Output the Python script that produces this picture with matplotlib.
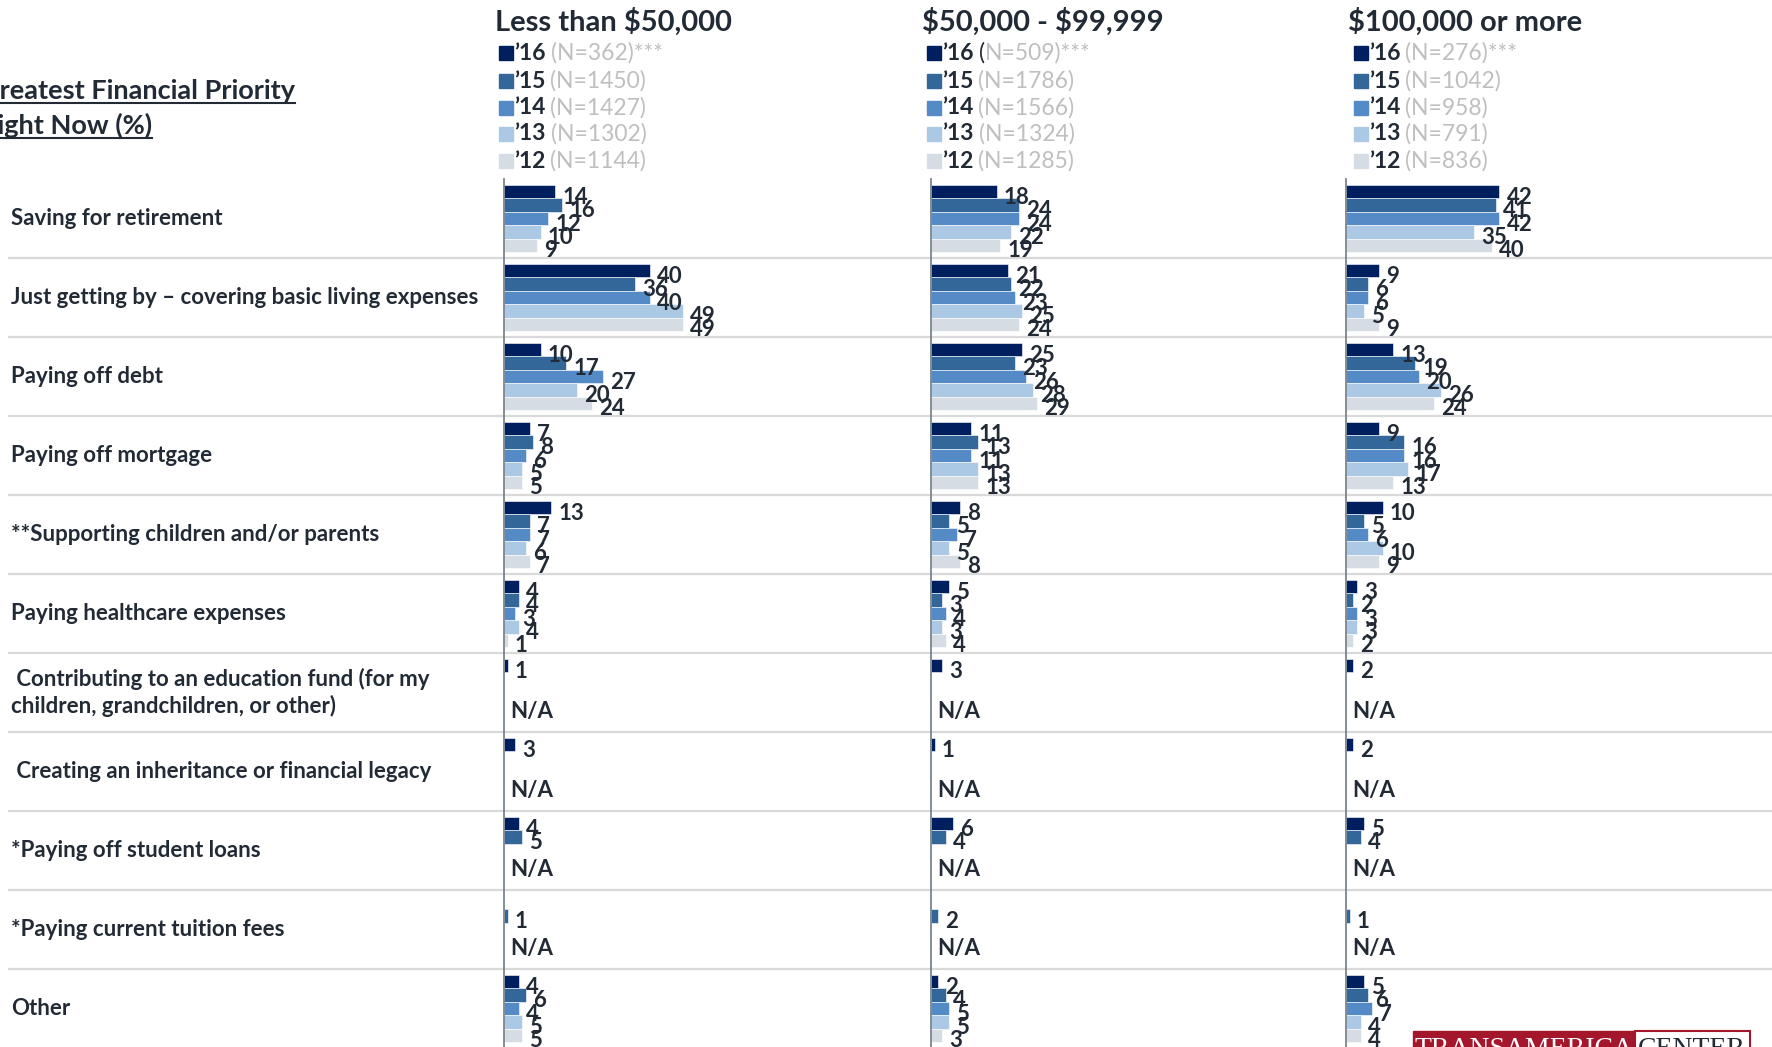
import numpy as np
import matplotlib
matplotlib.use('Agg')
import matplotlib.pyplot as plt
from matplotlib.patches import Rectangle
from matplotlib.lines import Line2D

plt.rcParams['font.family'] = ['Lato', 'DejaVu Sans']
plt.rcParams['text.parse_math'] = False

W, H = 1772, 1047
nan = np.nan

# 카테고리 / 연도
categories = ['Saving for retirement',
              'Just getting by – covering basic living expenses',
              'Paying off debt',
              'Paying off mortgage',
              '**Supporting children and/or parents',
              'Paying healthcare expenses',
              ' Contributing to an education fund (for my\nchildren, grandchildren, or other)',
              ' Creating an inheritance or financial legacy',
              '*Paying off student loans',
              '*Paying current tuition fees',
              'Other']
years = ['’16', '’15', '’14', '’13', '’12']
colors = ['#001f5f', '#336699', '#548bc6', '#abc8e5', '#d6dce4']

panels = ['Less than $50,000', '$50,000 - $99,999', '$100,000 or more']
n_sizes = [['(N=362)***', '(N=1450)', '(N=1427)', '(N=1302)', '(N=1144)'],
           ['(N=509)***', '(N=1786)', '(N=1566)', '(N=1324)', '(N=1285)'],
           ['(N=276)***', '(N=1042)', '(N=958)', '(N=791)', '(N=836)']]

# 값: 행 = 카테고리, 열 = '16 '15 '14 '13 '12
less_50k = [[14, 16, 12, 10, 9],
            [40, 36, 40, 49, 49],
            [10, 17, 27, 20, 24],
            [7, 8, 6, 5, 5],
            [13, 7, 7, 6, 7],
            [4, 4, 3, 4, 1],
            [1, nan, nan, nan, nan],
            [3, nan, nan, nan, nan],
            [4, 5, nan, nan, nan],
            [nan, 1, nan, nan, nan],
            [4, 6, 4, 5, 5]]
mid_50_99k = [[18, 24, 24, 22, 19],
              [21, 22, 23, 25, 24],
              [25, 23, 26, 28, 29],
              [11, 13, 11, 13, 13],
              [8, 5, 7, 5, 8],
              [5, 3, 4, 3, 4],
              [3, nan, nan, nan, nan],
              [1, nan, nan, nan, nan],
              [6, 4, nan, nan, nan],
              [nan, 2, nan, nan, nan],
              [2, 4, 5, 5, 3]]
over_100k = [[42, 41, 42, 35, 40],
             [9, 6, 6, 5, 9],
             [13, 19, 20, 26, 24],
             [9, 16, 16, 17, 13],
             [10, 5, 6, 10, 9],
             [3, 2, 3, 3, 2],
             [2, nan, nan, nan, nan],
             [2, nan, nan, nan, nan],
             [5, 4, nan, nan, nan],
             [nan, 1, nan, nan, nan],
             [5, 6, 7, 4, 4]]
panel_data = [less_50k, mid_50_99k, over_100k]
na_rows = [6, 7, 8, 9]

dark = '#222a35'
grey = '#bfbfbf'


def fx(px):
    return px / W


def fy(py):
    return 1 - py / H


fig = plt.figure(figsize=(W / 100, H / 100), dpi=100)
renderer = fig.canvas.get_renderer()

top, bottom = 179, 1048
nrow = len(categories)
px_per_unit = 3.65

# 배경: 구분선 + 카테고리 라벨
ax_bg = fig.add_axes([0, fy(bottom), 1, (bottom - top) / H])
ax_bg.set_xlim(0, W)
ax_bg.set_ylim(nrow, 0)
ax_bg.axis('off')
for i in range(1, nrow):
    ax_bg.plot([9, W], [i, i], color='#d9d9d9', lw=1.6, zorder=0)
for i, cat in enumerate(categories):
    ax_bg.text(11, i + 0.5, cat, ha='left', va='center', fontsize=16,
               fontweight='bold', color=dark, linespacing=1.3)

axis_x = [504, 931, 1346]
head_x = [495, 922, 1348]
leg_x = [499, 927, 1354]
leg_y = [53, 81, 108, 134, 161]
bh = 0.17

for p in range(3):
    data = np.array(panel_data[p], dtype=float)
    ax = fig.add_axes([fx(axis_x[p]), fy(bottom), 320 / W, (bottom - top) / H])
    ax.patch.set_alpha(0)
    ax.set_xlim(0, 320 / px_per_unit)
    ax.set_ylim(nrow, 0)
    for s in ['top', 'right', 'bottom']:
        ax.spines[s].set_visible(False)
    ax.spines['left'].set_color('#7b838c')
    ax.spines['left'].set_linewidth(1.3)
    ax.set_xticks([])
    ax.set_yticks([])

    rows = np.arange(nrow)
    for j in range(len(years)):
        vals = data[:, j]
        ok = ~np.isnan(vals)
        ypos = rows + 0.5 + (j - 2) * bh
        ax.barh(ypos[ok], vals[ok], height=bh, color=colors[j],
                edgecolor='white', linewidth=0.4)
        for y, v in zip(ypos[ok], vals[ok]):
            ax.text(v + 2.0, y + 0.07, f'{v:g}', ha='left', va='center',
                    fontsize=16, fontweight='bold', color=dark)
    for r in na_rows:
        ax.text(1.8, r + 0.74, 'N/A', ha='left', va='center', fontsize=16,
                fontweight='bold', color=dark)

    # 헤더
    fig.text(fx(head_x[p]), fy(22), panels[p], ha='left', va='center',
             fontsize=21, fontweight='bold', color=dark)

    # 범례
    for j in range(len(years)):
        yc = leg_y[j]
        fig.add_artist(Rectangle((fx(leg_x[p]), fy(yc + 7)), 14 / W, 14 / H,
                                 transform=fig.transFigure, color=colors[j]))
        t = fig.text(fx(leg_x[p] + 15), fy(yc), years[j], ha='left', va='center',
                     fontsize=16.5, fontweight='bold', color=dark)
        x1 = t.get_window_extent(renderer).x1
        lab = n_sizes[p][j]
        if p == 1 and j == 0:
            t2 = fig.text((x1 + 5) / W, fy(yc), '(', ha='left', va='center',
                          fontsize=16.5, color=dark)
            x1 = t2.get_window_extent(renderer).x1 - 5
            lab = lab[1:]
        fig.text((x1 + 5) / W, fy(yc), lab, ha='left', va='center',
                 fontsize=16.5, color=grey)

# 제목 (밑줄, 왼쪽이 잘림)
t1 = fig.text(fx(295), fy(99), 'Greatest Financial Priority', ha='right',
              va='baseline', fontsize=19.5, fontweight='bold', color=dark)
x0 = t1.get_window_extent(renderer).x0
t2 = fig.text(x0 / W, fy(134), 'Right Now (%)', ha='left', va='baseline',
              fontsize=19.5, fontweight='bold', color=dark)
for t, yb in [(t1, 99), (t2, 134)]:
    bb = t.get_window_extent(renderer)
    fig.add_artist(Line2D([bb.x0 / W, bb.x1 / W], [fy(yb + 4), fy(yb + 4)],
                          transform=fig.transFigure, color=dark, lw=1.5))

# 로고 (하단에서 잘림)
fig.add_artist(Rectangle((fx(1413), fy(1060)), 222 / W, 29 / H,
                         transform=fig.transFigure, facecolor='#a3162c',
                         edgecolor='#a3162c'))
fig.add_artist(Rectangle((fx(1635), fy(1060)), 115 / W, 29 / H,
                         transform=fig.transFigure, facecolor='white',
                         edgecolor='#a3162c', lw=1.5))
fig.text(fx(1524), fy(1037), 'TRANSAMERICA', ha='center', va='top',
         fontsize=20, color='white', family='Liberation Serif')
fig.text(fx(1692), fy(1037), 'CENTER', ha='center', va='top',
         fontsize=20, color=dark, family='Liberation Serif')

fig.savefig('out.png', dpi=100)
